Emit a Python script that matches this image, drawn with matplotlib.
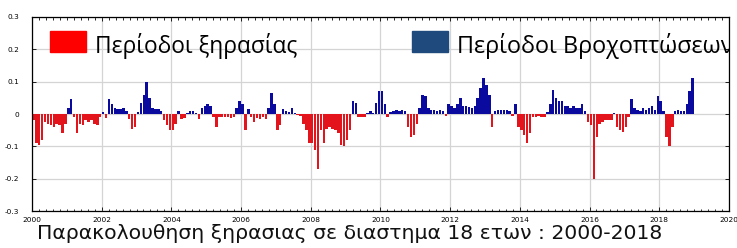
import numpy as np
import matplotlib.pyplot as plt
from matplotlib.patches import Rectangle
from matplotlib.ticker import MultipleLocator, FixedLocator

# monthly drought index values, Jan 2000 - Dec 2018
y2000 = [-0.02, -0.09, -0.095, -0.08, -0.025, -0.03, -0.035, -0.04, -0.03, -0.035, -0.06, -0.03]
y2001 = [0.02, 0.045, -0.01, -0.06, -0.03, -0.035, -0.02, -0.025, -0.02, -0.03, -0.035, -0.01]
y2002 = [0.005, -0.012, 0.045, 0.03, 0.02, 0.015, 0.015, 0.018, 0.01, -0.015, -0.045, -0.04]
y2003 = [0.005, 0.035, 0.06, 0.1, 0.05, 0.02, 0.015, 0.015, 0.01, -0.02, -0.035, -0.05]
y2004 = [-0.05, -0.03, 0.01, -0.015, -0.012, 0.003, 0.008, 0.008, 0.003, -0.015, 0.02, 0.025]
y2005 = [0.03, 0.025, -0.01, -0.04, -0.01, -0.008, -0.01, -0.008, -0.012, -0.01, 0.02, 0.04]
y2006 = [0.03, -0.05, 0.015, -0.01, -0.025, -0.012, -0.015, -0.01, -0.015, 0.02, 0.065, 0.03]
y2007 = [-0.05, -0.035, 0.015, 0.008, 0.005, 0.02, 0.003, -0.003, -0.005, -0.03, -0.05, -0.09]
y2008 = [-0.09, -0.11, -0.17, -0.05, -0.09, -0.045, -0.04, -0.045, -0.05, -0.06, -0.095, -0.1]
y2009 = [-0.08, -0.05, 0.04, 0.035, -0.008, -0.01, -0.008, 0.003, 0.008, 0.002, 0.035, 0.07]
y2010 = [0.07, 0.03, -0.01, 0.005, 0.01, 0.012, 0.01, 0.012, 0.008, -0.04, -0.07, -0.065]
y2011 = [-0.03, 0.02, 0.06, 0.055, 0.02, 0.012, 0.012, 0.01, 0.012, 0.008, -0.005, 0.03]
y2012 = [0.025, 0.02, 0.03, 0.05, 0.025, 0.025, 0.022, 0.02, 0.025, 0.05, 0.08, 0.11]
y2013 = [0.09, 0.06, -0.04, 0.008, 0.012, 0.012, 0.012, 0.012, 0.01, -0.005, 0.03, -0.04]
y2014 = [-0.05, -0.065, -0.09, -0.06, -0.01, -0.01, -0.005, -0.01, -0.01, 0.005, 0.03, 0.075]
y2015 = [0.05, 0.04, 0.04, 0.025, 0.025, 0.02, 0.025, 0.02, 0.02, 0.03, 0.01, -0.025]
y2016 = [-0.035, -0.2, -0.07, -0.03, -0.025, -0.02, -0.02, -0.02, 0.003, -0.04, -0.05, -0.055]
y2017 = [-0.04, -0.01, 0.045, 0.02, 0.012, 0.01, 0.02, 0.012, 0.02, 0.025, 0.012, 0.055]
y2018 = [0.04, 0.01, -0.07, -0.1, -0.04, 0.01, 0.012, 0.01, 0.008, 0.03, 0.07, 0.11]

values = np.array(y2000 + y2001 + y2002 + y2003 + y2004 + y2005 + y2006 + y2007 + y2008 + y2009
                  + y2010 + y2011 + y2012 + y2013 + y2014 + y2015 + y2016 + y2017 + y2018)
dates = 2000 + (np.arange(len(values)) + 0.5) / 12

xticks = [2000, 2002, 2004, 2006, 2008, 2010, 2012, 2014, 2016, 2018, 2020]
yticks = [-0.3, -0.2, -0.1, 0, 0.1, 0.2, 0.3]
ylabels = ['-0.3', '-0.2', '-0.1', '0', '0.1', '0.2', '0.3']

dry_label = 'Περίοδοι ξηρασίας'
wet_label = 'Περίοδοι Βροχοπτώσεων'
caption = 'Παρακολουθηση ξηρασιας σε διαστημα 18 ετων : 2000-2018'

fig = plt.figure(figsize=(7.37, 2.48), dpi=100)
ax = fig.add_axes([0.0434, 0.149, 0.9456, 0.7825])

# positive = wet (blue), negative = dry (red)
pos = values >= 0
ax.bar(dates[pos], values[pos], width=0.85 / 12, color='#0a0a9e', linewidth=0)
ax.bar(dates[~pos], values[~pos], width=0.85 / 12, color='#e4141c', linewidth=0)

ax.set_xlim(2000, 2020)
ax.set_ylim(-0.3, 0.3)
ax.xaxis.set_major_locator(FixedLocator(xticks))
ax.xaxis.set_minor_locator(MultipleLocator(0.2))
ax.set_xticklabels([str(t) for t in xticks])
ax.set_yticks(yticks)
ax.set_yticklabels(ylabels)
ax.tick_params(which='both', direction='in', top=True, right=True, labelsize=5.3)
ax.tick_params(axis='x', pad=4)
ax.tick_params(axis='y', pad=9)
ax.tick_params(which='major', length=3, width=0.6)
ax.tick_params(which='minor', length=1.8, width=0.6)
ax.grid(True, color='#d4d4d4', linewidth=0.9)
ax.set_axisbelow(True)
for s in ax.spines.values():
    s.set_linewidth(0.9)

# hand made legend on top of the plot
fig.patches.append(Rectangle((50 / 737, 1 - 52 / 248), 36 / 737, 21 / 248,
                             transform=fig.transFigure, color='#ff0000', zorder=5))
fig.patches.append(Rectangle((412 / 737, 1 - 52 / 248), 36 / 737, 21 / 248,
                             transform=fig.transFigure, color='#1f4a7d', zorder=5))
fig.text(95 / 737, 1 - 53 / 248, dry_label, fontsize=16.4, family='Open Sans', va='baseline')
t = fig.text(457 / 737, 1 - 53 / 248, wet_label, fontsize=16.8, family='Open Sans', va='baseline')
t.set_clip_path(ax.patch)

# caption at the bottom
fig.text(37 / 737, 1 - 224 / 248, caption, fontsize=14.7, va='top', color='#111111')

fig.savefig('out.png', dpi=100)
